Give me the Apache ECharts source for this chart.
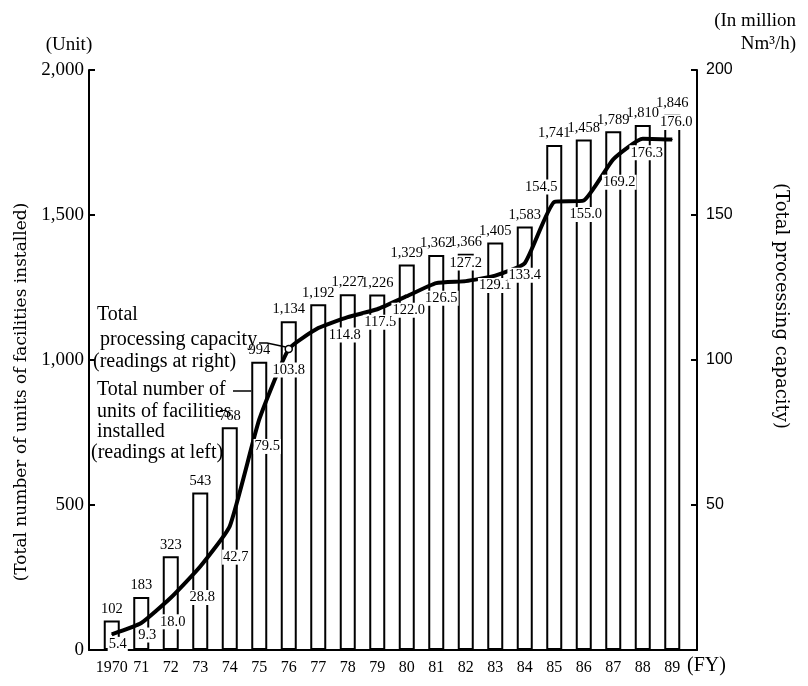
<!DOCTYPE html>
<html>
<head>
<meta charset="utf-8">
<script src="https://cdn.jsdelivr.net/npm/echarts@6/dist/echarts.min.js"></script>
<style>
html,body{margin:0;padding:0;background:#fff;}
#c{width:808px;height:686px;}
</style>
</head>
<body>
<div id="c"></div>
<script>
// ---- data ----
const years = ['1970','71','72','73','74','75','76','77','78','79','80','81','82','83','84','85','86','87','88','89'];
// bar heights as drawn (units)
const units = [102,183,323,543,768,994,1134,1192,1227,1226,1329,1362,1366,1405,1460,1741,1760,1789,1810,1846];
// bar labels as printed
const unitLabels = ['102','183','323','543','768','994','1,134','1,192','1,227','1,226','1,329','1,362','1,366','1,405','1,583','1,741','1,458','1,789','1,810','1,846'];
// total processing capacity (million Nm3/h)
const capacity = [5.4,9.3,18.0,28.8,42.7,79.5,103.8,111.0,114.8,117.5,122.0,126.5,127.2,129.1,133.4,154.5,155.0,169.2,176.3,176.0];
const capacityLabels = ['5.4','9.3','18.0','28.8','42.7','79.5','103.8','','114.8','117.5','122.0','126.5','127.2','129.1','133.4','154.5','155.0','169.2','176.3','176.0'];
const leftTicks = [0,500,1000,1500,2000];
const rightTicks = [50,100,150,200];

// label placement offsets for the capacity labels (style only)
const capLabelOffsets = [[6,10],[6,12],[2,24],[2,31],[6,31],[8,27],[0,21],[0,0],[-3,18],[3,13],[2,14],[5,15],[0,-18],[0,10],[0,12],[-13,-15],[2,14],[6,23],[4,14],[4,-17]];

const SERIF = '"Liberation Serif","Times New Roman",serif';
const SANS = '"Liberation Sans",Arial,sans-serif';

const chart = echarts.init(document.getElementById('c'), null, {renderer:'canvas'});

const lineData = capacity.map((v,i)=>{
  const item = {
    value: v,
    label: {
      show: capacityLabels[i] !== '',
      offset: capLabelOffsets[i]
    }
  };
  if (i === 6) {
    item.symbol = 'circle';
    item.symbolSize = 7;
    item.itemStyle = {color:'#fff', borderColor:'#000', borderWidth:1.5};
  }
  return item;
});

const fmtComma = v => String(v).replace(/\B(?=(\d{3})+(?!\d))/g, ',');

const option = {
  animation: false,
  backgroundColor: '#fff',
  grid: [
    {left: 97, right: 121, top: 70, bottom: 36},
    {left: 89, right: 111, top: 70, bottom: 36}
  ],
  xAxis: [
    {
      gridIndex: 0, type: 'category', data: years,
      axisLine: {show: false}, axisTick: {show: false},
      axisLabel: {color:'#000', fontFamily: SERIF, fontSize: 16, margin: 10, interval: 0},
      splitLine: {show: false}
    },
    {
      gridIndex: 1, type: 'category', data: [''],
      axisLine: {show: true, lineStyle: {color:'#000', width: 2}},
      axisTick: {show: false}, axisLabel: {show: false}, splitLine: {show: false}
    }
  ],
  yAxis: [
    {
      gridIndex: 1, type: 'value', position: 'left', min: 0, max: 2000, interval: 500,
      axisLine: {show: true, lineStyle: {color:'#000', width: 2}},
      axisTick: {show: true, inside: true, length: 6, lineStyle: {color:'#000', width: 2}},
      axisLabel: {color:'#000', fontFamily: SERIF, fontSize: 19, margin: 5,
        formatter: v => leftTicks.indexOf(v) >= 0 ? fmtComma(v) : ''},
      splitLine: {show: false}
    },
    {
      gridIndex: 1, type: 'value', position: 'right', min: 0, max: 200, interval: 50,
      axisLine: {show: true, lineStyle: {color:'#000', width: 2}},
      axisTick: {show: true, inside: true, length: 6, lineStyle: {color:'#000', width: 2}},
      axisLabel: {color:'#000', fontFamily: SANS, fontSize: 16, margin: 9,
        formatter: v => rightTicks.indexOf(v) >= 0 ? String(v) : ''},
      splitLine: {show: false}
    },
    {gridIndex: 0, type: 'value', min: 0, max: 2000, show: false},
    {gridIndex: 0, type: 'value', min: 0, max: 200, show: false}
  ],
  series: [
    {
      name: 'Total number of units of facilities installed',
      type: 'bar', xAxisIndex: 0, yAxisIndex: 2,
      data: units, barWidth: 16, z: 2,
      itemStyle: {color:'#fff', borderColor:'#000', borderWidth: 2},
      label: {
        show: true, position: 'top', distance: 4,
        color:'#000', fontFamily: SERIF, fontSize: 14.5,
        formatter: p => unitLabels[p.dataIndex]
      }
    },
    {
      name: 'Total processing capacity',
      type: 'line', xAxisIndex: 0, yAxisIndex: 3,
      data: lineData, z: 5, smooth: 0.15,
      symbol: 'circle', symbolSize: 1, showSymbol: true,
      itemStyle: {color:'#000'},
      lineStyle: {color:'#000', width: 4},
      label: {
        show: true, position: 'inside', align: 'center', verticalAlign: 'middle',
        color:'#000', fontFamily: SERIF, fontSize: 14.5,
        backgroundColor: '#fff', padding: [0,1],
        formatter: p => capacityLabels[p.dataIndex]
      }
    }
  ]
};

chart.setOption(option);

// annotation layout (leader lines anchored to computed data positions)
const p76 = chart.convertToPixel({xAxisIndex:0, yAxisIndex:3}, [years[6], capacity[6]]);
const b75 = chart.convertToPixel({xAxisIndex:0, yAxisIndex:2}, [years[5], units[5]]);
const bar75Left = b75[0] - 8;

const t = (text, x, y, size, extra) => ({
  type: 'text', x: x, y: y, z: 50,
  style: Object.assign({text: text, fill:'#000', font: size + 'px ' + SERIF, textAlign:'left', textVerticalAlign:'middle'}, extra || {})
});

const graphics = [
  t('(Unit)', 69, 45, 19, {textAlign:'center'}),
  t('(In million', 796, 21, 19, {textAlign:'right'}),
  t('Nm³/h)', 796, 44, 19, {textAlign:'right'}),
  t('(FY)', 687, 666, 20),
  {type:'text', x: 22, y: 392, rotation: Math.PI/2, z: 50,
    style:{text:'(Total number of units of facilities installed)', fill:'#000', font:'17px "DejaVu Serif",serif', textAlign:'center', textVerticalAlign:'middle'}},
  {type:'text', x: 781, y: 306, rotation: -Math.PI/2, z: 50,
    style:{text:'(Total processing capacity)', fill:'#000', font:'18px "DejaVu Serif",serif', textAlign:'center', textVerticalAlign:'middle'}},
  t('Total', 97, 315, 20),
  t('processing capacity', 100, 340, 20),
  t('(readings at right)', 93, 362, 20),
  t('Total number of', 97, 390, 20),
  t('units of facilities', 97, 412, 20),
  t('installed', 97, 432, 20),
  t('(readings at left)', 91, 453, 20),
  {type:'polyline', z: 50, shape:{points:[[259,343],[267,343],[p76[0]-3, p76[1]-2]]}, style:{stroke:'#000', lineWidth:1.5, fill:null}},
  {type:'line', z: 50, shape:{x1: 233, y1: 391, x2: bar75Left, y2: 391}, style:{stroke:'#000', lineWidth:1.5}}
];

chart.setOption({graphic: graphics});
</script>
</body>
</html>
